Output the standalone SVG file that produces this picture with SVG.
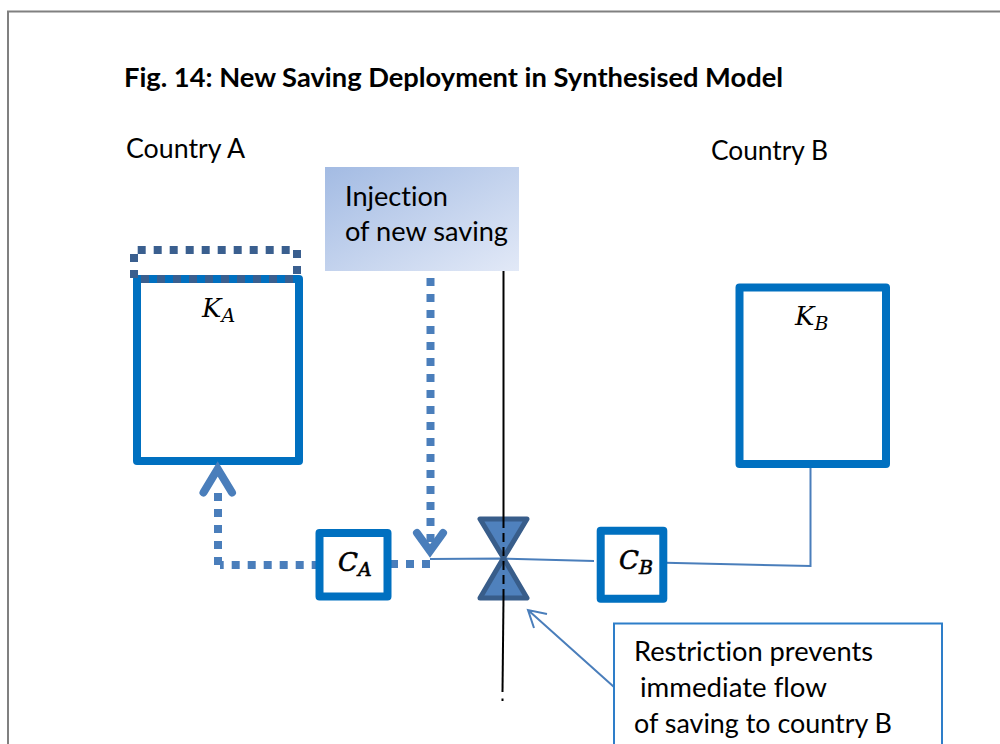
<svg xmlns="http://www.w3.org/2000/svg" width="1000" height="744" viewBox="0 0 1000 744">
<style>
text{fill:#000;font-family:"Lato","Open Sans","Liberation Sans",sans-serif;font-size:26px;font-variant-ligatures:none}
.title{font-weight:700}
.box{fill:#fff;stroke:#0070c0;stroke-width:8;stroke-linejoin:round}
.math{font-family:"DejaVu Serif","Liberation Serif",serif;font-style:italic;font-size:26px}
.heavy{stroke:#000;stroke-width:.6}
.sub{font-size:19px}
.dash{fill:none;stroke:#3a5f8f;stroke-width:8;stroke-dasharray:8 8}
.dot{fill:none;stroke:#4a7ebb;stroke-width:8;stroke-dasharray:8 8}
.head{fill:none;stroke:#4a7ebb;stroke-width:8;stroke-linecap:round;stroke-linejoin:miter}
.thin{fill:none;stroke:#4a7ebb;stroke-width:2}
.axis{fill:none;stroke:#000;stroke-width:2}
</style>
<defs>
<linearGradient id="inj" x1="0" y1="0" x2="1" y2="1">
<stop offset="0" stop-color="#a3bbe3"/>
<stop offset="1" stop-color="#e2e9f7"/>
</linearGradient>
</defs>
<path d="M8 744V11.500H1000" fill="none" stroke="#808080" stroke-width="2"/>
<text class="title" x="124" y="87" textLength="659" lengthAdjust="spacingAndGlyphs">Fig. 14: New Saving Deployment in Synthesised Model</text>
<text x="126" y="158" textLength="119" lengthAdjust="spacingAndGlyphs">Country A</text>
<text x="711" y="160" textLength="117" lengthAdjust="spacingAndGlyphs">Country B</text>
<g id="node-ka">
<rect class="box" x="137" y="279" width="162" height="182"/>
<path class="dash" d="M137.700 250H293.700"/>
<path class="dash" d="M134 278V254"/>
<path class="dash" d="M297 250V274"/>
<path class="dash" d="M141 279H297"/>
<text class="math" x="202" y="317">K<tspan class="sub" dy="5">A</tspan></text>
</g>
<g id="node-kb">
<rect class="box" x="739.500" y="287.500" width="146.500" height="176.500"/>
<text class="math" x="795" y="325">K<tspan class="sub" dy="5">B</tspan></text>
</g>
<g id="node-injection">
<rect x="325" y="167" width="194" height="104" fill="url(#inj)"/>
<text x="345" y="206" textLength="103" lengthAdjust="spacingAndGlyphs">Injection</text>
<text x="345" y="241" textLength="163" lengthAdjust="spacingAndGlyphs">of new saving</text>
</g>
<g id="connectors">
<path class="dot" d="M430.500 278V542"/>
<path class="head" d="M417 533L430 551L443 533"/>
<path class="dot" d="M390 564H430"/>
<path class="dot" d="M319.700 565H220"/>
<path class="dot" d="M218 565V493"/>
<path class="head" d="M203.500 492.500L217.700 469L232 492.500"/>
<path class="thin" d="M430 559L503 558.500L594 561"/>
<path class="thin" d="M665 562.700L810.500 566V468"/>
<path class="thin" d="M614 687L528 610M547 614L528 610L534 628" stroke-width="2.500"/>
</g>
<g id="node-restriction-valve">
<path d="M480 519H527L503.500 558ZM503.500 558L527 598H480Z" fill="#4f81bd" stroke="#385d8a" stroke-width="5" stroke-linejoin="round"/>
<path class="axis" d="M503.500 271V519"/>
<path class="axis" d="M503.500 519V598" stroke-dasharray="9 5"/>
<path class="axis" d="M503.500 598L502.500 692"/>
<path class="axis" d="M502.500 698.500V701"/>
</g>
<g id="node-ca">
<rect class="box" x="319.500" y="533" width="68" height="63.500"/>
<text class="math heavy" x="338" y="571">C<tspan class="sub" dy="5">A</tspan></text>
</g>
<g id="node-cb">
<rect class="box" x="600.700" y="530.700" width="62.600" height="68"/>
<text class="math heavy" x="619" y="569">C<tspan class="sub" dy="5">B</tspan></text>
</g>
<g id="node-callout">
<path d="M614 744V623.500H942V744" fill="#fff" stroke="#2e7ec9" stroke-width="2"/>
<text x="634" y="661" textLength="239" lengthAdjust="spacingAndGlyphs">Restriction prevents</text>
<text x="640" y="697" textLength="187" lengthAdjust="spacingAndGlyphs">immediate flow</text>
<text x="634" y="733" textLength="258" lengthAdjust="spacingAndGlyphs">of saving to country B</text>
</g>
</svg>
